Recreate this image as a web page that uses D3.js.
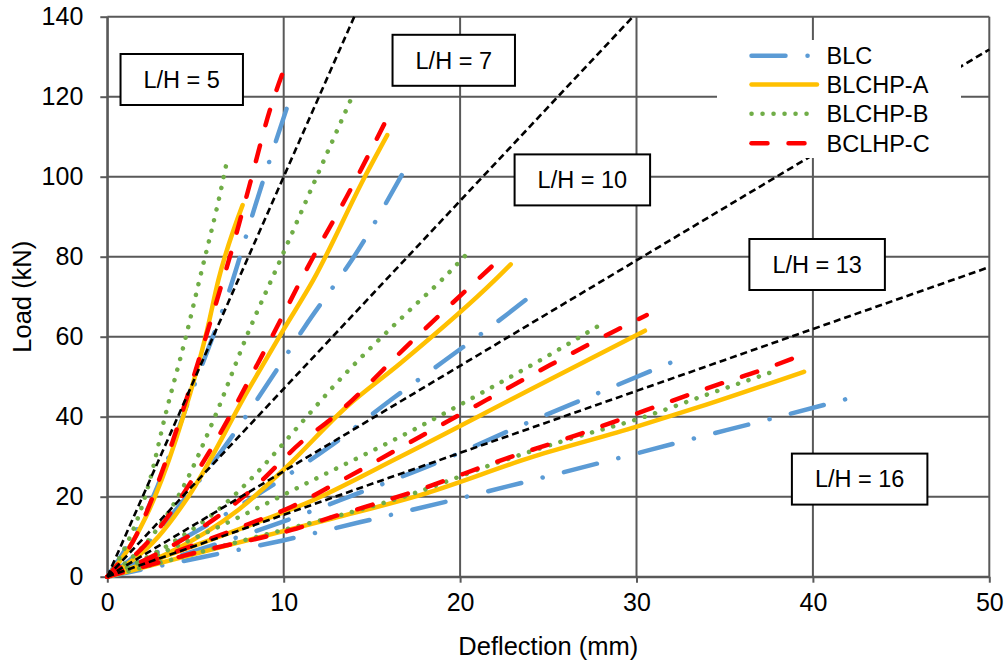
<!DOCTYPE html>
<html>
<head>
<meta charset="utf-8">
<script src="https://cdn.jsdelivr.net/npm/d3@7/dist/d3.min.js"></script>
<style>
  html, body { margin: 0; padding: 0; background: #ffffff; }
  svg { display: block; font-family: "Liberation Sans", Arial, sans-serif; }
</style>
</head>
<body>
<svg id="chart" width="1006" height="662"></svg>
<script>
// ---------------- DATA ----------------
const xTicks = [0, 10, 20, 30, 40, 50];
const yTicks = [0, 20, 40, 60, 80, 100, 120, 140];
const xTitle = "Deflection (mm)";
const yTitle = "Load (kN)";

const seriesNames = ["BLC", "BLCHP-A", "BLCHP-B", "BCLHP-C"];
const groupLabels = ["L/H = 5", "L/H = 7", "L/H = 10", "L/H = 13", "L/H = 16"];
// label anchor (data units) for each L/H annotation box
const groupLabelAnchors = [[4.22, 124.3], [19.64, 129.1], [26.93, 99.2], [40.24, 78.05], [42.65, 24.4]];

// BLC: one curve per L/H group (deflection mm, load kN)
const BLC = [
  [[0,0],[2.6,20],[4.69,45],[7.05,73.3],[8.37,92.5],[10.45,120.8]],
  [[0,0],[2.0,7],[4.03,17.5],[6.77,33.2],[9.32,49.8],[11.2,62.5],[14.23,81.7],[16.69,100.4]],
  [[0,0],[4.5,10],[8.94,21.7],[12.6,32.5],[16.2,44.6],[19.05,53.8],[22.73,65.8],[24.06,70.4]],
  [[0,0],[4.5,5.8],[9.6,13.2],[13.95,20.4],[19.05,29.2],[23.3,37.5],[27.55,45.4],[32.75,55]],
  [[0,0],[5.5,5],[9.89,9],[14.3,13.6],[19.81,19.4],[24.15,24.2],[28.59,29.2],[32.94,34.2],[37.38,39.2],[42.91,45.6]]
];
const BLCHP_A = [
  [[0,0],[1.2,7],[2.7,20],[4.3,40],[5.66,61.7],[6.3,74.2],[7.67,92.9]],
  [[0,0],[2.89,10],[4.59,20],[7.99,46.7],[9.98,61.7],[11.68,74.2],[14.6,100],[15.87,110.4]],
  [[0,0],[3.5,6],[7.42,16.7],[9.98,26.7],[13.57,42.5],[16.6,53.3],[21.98,74.2],[22.87,78.1]],
  [[0,0],[8.09,12.9],[11.23,18.3],[16.6,30],[24.15,47.2],[30.48,61.5]],
  [[0,0],[7.14,8.2],[12.81,14.6],[17.73,20.4],[24.15,30],[30.01,37.5],[33.6,42.5],[39.5,51.25]]
];
const BLCHP_B = [
  [[0,0],[0.63,4.2],[2.42,24.2],[3.27,40],[4.5,60.8],[5.2,73.75],[6.6,100],[6.83,105]],
  [[0,0],[2.5,10],[4.22,21.7],[6.1,40],[7.89,60],[9.89,80],[11.87,100],[13.98,121]],
  [[0,0],[3.93,9.2],[6.49,17.5],[8.09,24.2],[11.15,39.2],[12.81,47.5],[17.16,66.7],[18.96,74.2],[20.62,81.8]],
  [[0,0],[7.14,14.2],[11.68,24.2],[17.35,36.7],[21.69,47.1],[25.38,56.25],[27.99,63.1]],
  [[0,0],[8.09,9.5],[17.35,20.8],[22.26,28.75],[26.04,34.2],[30.2,39.6],[34.17,45.8],[37.57,51]]
];
const BCLHP_C = [
  [[0,0],[1.6,10],[3.27,28.3],[4.59,45.8],[6.39,71.7],[6.95,80],[8.09,98.3],[9.22,116.7],[10.03,127]],
  [[0,0],[2.14,7.9],[5.73,30.8],[8.94,56.7],[11.68,80],[13.57,95],[15.74,113.5]],
  [[0,0],[2.5,5],[5.16,11.7],[8.18,21.7],[11.15,34.2],[12.62,39.2],[17.35,59.2],[20.46,72.1],[21.98,78.3]],
  [[0,0],[8.09,13.3],[10.45,17.5],[12.62,22.5],[17.73,35],[21.5,44.2],[25.1,52.9],[28.88,61.7],[30.58,65.4]],
  [[0,0],[5.26,6.3],[10.45,11.7],[12.81,15],[17.35,21.25],[22.64,29.6],[26.61,35.4],[30.58,41.7],[34.73,48.2],[37.19,51.8],[39.23,55.2]]
];
// black dashed boundary lines between L/H groups
const boundaryLines = [
  [[0,0],[14,140]],
  [[0,0],[29.8,140]],
  [[0,0],[50,131.8]],
  [[0,0],[50,77.4]]
];

// ---------------- STYLES ----------------
const seriesData = [BLC, BLCHP_A, BLCHP_B, BCLHP_C];
const seriesStyle = [
  { color: "#5B9BD5", dash: "34,22,0.1,22" },
  { color: "#FFC000", dash: null },
  { color: "#70AD47", dash: "0.1,10.9" },
  { color: "#FF0000", dash: "16,21" }
];
const lineW = 4.5;
const gridColor = "#595959";

// ---------------- LAYOUT ----------------
const svg = d3.select("#chart");
const m = { left: 107.3, right: 989.3, top: 16.7, bottom: 576.7 };
const x = d3.scaleLinear().domain([0, 50]).range([m.left, m.right]);
const y = d3.scaleLinear().domain([0, 140]).range([m.bottom, m.top]);

// gridlines
const grid = svg.append("g");
grid.selectAll("line.gx").data(xTicks).enter().append("line")
  .attr("x1", d => x(d)).attr("x2", d => x(d))
  .attr("y1", y(0)).attr("y2", y(140))
  .attr("stroke", gridColor).attr("stroke-width", 2);
grid.selectAll("line.gy").data(yTicks).enter().append("line")
  .attr("y1", d => y(d)).attr("y2", d => y(d))
  .attr("x1", x(0)).attr("x2", x(50))
  .attr("stroke", gridColor).attr("stroke-width", 2);

// axes
const xAxis = d3.axisBottom(x).tickValues(xTicks).tickSize(6).tickSizeOuter(0).tickPadding(6);
const gx = svg.append("g").attr("transform", `translate(0,${y(0)})`).call(xAxis);
gx.select(".domain").attr("stroke", gridColor).attr("stroke-width", 2);
gx.selectAll(".tick line").attr("stroke", gridColor).attr("stroke-width", 2);
gx.selectAll(".tick text").attr("font-size", 25).attr("fill", "#000")
  .attr("font-family", "Liberation Sans, Arial, sans-serif").attr("dy", "0.9em");

const yAxis = d3.axisLeft(y).tickValues(yTicks).tickSize(7).tickSizeOuter(0).tickPadding(17);
const gy = svg.append("g").attr("transform", `translate(${x(0)},0)`).call(yAxis);
gy.select(".domain").attr("stroke", gridColor).attr("stroke-width", 2);
gy.selectAll(".tick line").attr("stroke", gridColor).attr("stroke-width", 2);
gy.selectAll(".tick text").attr("font-size", 25).attr("fill", "#000")
  .attr("font-family", "Liberation Sans, Arial, sans-serif");

// axis titles
svg.append("text").attr("x", (m.left + m.right) / 2).attr("y", 655)
  .attr("text-anchor", "middle").attr("font-size", 25.5).attr("fill", "#000").text(xTitle);
svg.append("text").attr("transform", `translate(31,${(m.top + m.bottom) / 2}) rotate(-90)`)
  .attr("text-anchor", "middle").attr("font-size", 25.5).attr("fill", "#000").text(yTitle);

// series
const line = d3.line().x(d => x(d[0])).y(d => y(d[1])).curve(d3.curveMonotoneX);
const plot = svg.append("g");
seriesData.forEach((curves, si) => {
  const st = seriesStyle[si];
  plot.append("g").selectAll("path").data(curves).enter().append("path")
    .attr("d", line)
    .attr("fill", "none")
    .attr("stroke", st.color)
    .attr("stroke-width", lineW)
    .attr("stroke-linecap", "round")
    .attr("stroke-linejoin", "round")
    .attr("stroke-dasharray", st.dash);
});

// boundary dashed lines
const lin = d3.line().x(d => x(d[0])).y(d => y(d[1]));
svg.append("g").selectAll("path").data(boundaryLines).enter().append("path")
  .attr("d", lin).attr("fill", "none").attr("stroke", "#000")
  .attr("stroke-width", 2.6).attr("stroke-dasharray", "7,4");

// legend
const lg = svg.append("g");
lg.append("rect").attr("x", 717).attr("y", 40).attr("width", 244).attr("height", 118).attr("fill", "#fff");
const rowY = [55.7, 84.6, 113.8, 143.3];
seriesNames.forEach((name, i) => {
  const st = seriesStyle[i];
  lg.append("line").attr("x1", 751.5).attr("x2", 817).attr("y1", rowY[i]).attr("y2", rowY[i])
    .attr("stroke", st.color).attr("stroke-width", lineW).attr("stroke-linecap", "round")
    .attr("stroke-dasharray", st.dash);
  lg.append("text").attr("x", 826.5).attr("y", rowY[i]).attr("dy", "0.35em")
    .attr("font-size", 23.5).attr("fill", "#000").text(name);
});

// L/H annotation boxes
const ann = svg.append("g");
groupLabels.forEach((t, i) => {
  const cx = x(groupLabelAnchors[i][0]), cy = y(groupLabelAnchors[i][1]);
  const g = ann.append("g");
  const txt = g.append("text").attr("x", cx).attr("y", cy).attr("dy", "0.35em")
    .attr("text-anchor", "middle").attr("font-size", 23.5).attr("fill", "#000").text(t);
  const w = txt.node().getComputedTextLength() + 46, h = 51;
  g.insert("rect", "text").attr("x", cx - w / 2).attr("y", cy - h / 2)
    .attr("width", w).attr("height", h).attr("fill", "#fff")
    .attr("stroke", "#000").attr("stroke-width", 2);
});
</script>
</body>
</html>
